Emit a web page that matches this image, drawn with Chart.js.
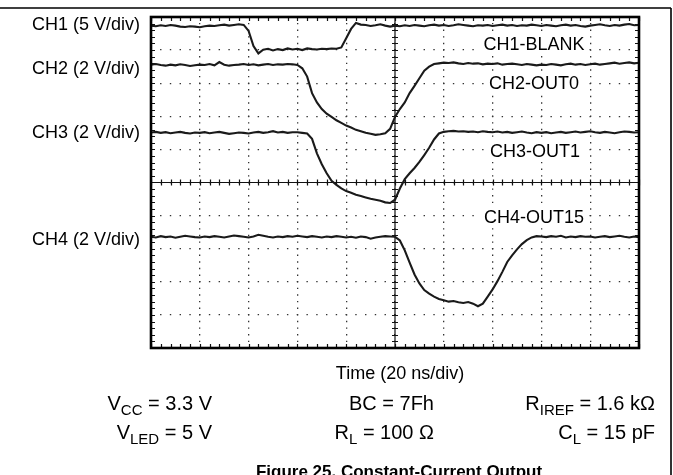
<!DOCTYPE html>
<html><head><meta charset="utf-8">
<script src="https://cdn.jsdelivr.net/npm/chart.js@4.4.0/dist/chart.umd.min.js"></script>
<style>
html,body{margin:0;padding:0;background:#fff;}
#wrap{position:relative;width:673px;height:475px;overflow:hidden;font-family:"Liberation Sans",Arial,Helvetica,sans-serif;color:#000;}
canvas{position:absolute;left:0;top:0;}
.t{position:absolute;white-space:nowrap;line-height:1;}
.r{transform:translateX(-100%);}
.c{transform:translateX(-50%);}
.lab{background:#fff;padding:0 3px;}
.s18{font-size:18px;}
.s20{font-size:20px;}
sub{font-size:0.75em;vertical-align:-0.3em;line-height:0;}
.cap{font-size:17px;font-weight:bold;}
</style></head><body>
<div id="wrap">
<canvas id="c" width="673" height="475"></canvas>
<div class="t r s18" style="left:140px;top:15px">CH1 (5 V/div)</div>
<div class="t r s18" style="left:140px;top:59px">CH2 (2 V/div)</div>
<div class="t r s18" style="left:140px;top:123px">CH3 (2 V/div)</div>
<div class="t r s18" style="left:140px;top:230px">CH4 (2 V/div)</div>
<div class="t c s18 lab" style="left:534px;top:35px">CH1-BLANK</div>
<div class="t c s18 lab" style="left:534px;top:74px">CH2-OUT0</div>
<div class="t c s18 lab" style="left:535px;top:142px">CH3-OUT1</div>
<div class="t c s18 lab" style="left:534px;top:208px">CH4-OUT15</div>
<div class="t c s18" style="left:400px;top:364px">Time (20 ns/div)</div>
<div class="t r s20" style="left:212px;top:393px">V<sub>CC</sub> = 3.3 V</div>
<div class="t r s20" style="left:434px;top:393px">BC = 7Fh</div>
<div class="t r s20" style="left:655px;top:393px">R<sub>IREF</sub> = 1.6 kΩ</div>
<div class="t r s20" style="left:212px;top:422px">V<sub>LED</sub> = 5 V</div>
<div class="t r s20" style="left:434px;top:422px">R<sub>L</sub> = 100 Ω</div>
<div class="t r s20" style="left:655px;top:422px">C<sub>L</sub> = 15 pF</div>
<div class="t c cap" style="left:399px;top:463px">Figure 25. Constant-Current Output</div>
</div>
<script>
// Time axis (ns), 20 ns/div
const timeNs = [-100,-98,-96,-94,-92,-90,-88,-86,-84,-82,-80,-78,-76,-74,-72,-70,-68,-66,-64,-62,-60,-58,-56,-54,-52,-50,-48,-46,-44,-42,-40,-38,-36,-34,-32,-30,-28,-26,-24,-22,-20,-18,-16,-14,-12,-10,-8,-6,-4,-2,0,2,4,6,8,10,12,14,16,18,20,22,24,26,28,30,32,34,36,38,40,42,44,46,48,50,52,54,56,58,60,62,64,66,68,70,72,74,76,78,80,82,84,86,88,90,92,94,96,98,100];
// Trace positions in screen divisions (center = 0)
const ch1Blank = [4.74,4.72,4.75,4.73,4.76,4.74,4.71,4.70,4.72,4.71,
 4.69,4.72,4.74,4.73,4.75,4.77,4.74,4.76,4.78,4.76,
 4.58,4.12,3.90,4.01,4.04,3.99,4.03,4.00,4.05,4.02,
 4.04,4.00,4.05,4.03,4.02,4.04,4.03,4.05,4.04,4.08,
 4.36,4.64,4.82,4.77,4.76,4.73,4.75,4.78,4.74,4.71,
 4.74,4.72,4.75,4.73,4.76,4.74,4.72,4.75,4.77,4.74,
 4.76,4.73,4.75,4.78,4.76,4.74,4.72,4.75,4.74,4.76,
 4.73,4.75,4.77,4.74,4.76,4.73,4.75,4.74,4.77,4.75,
 4.73,4.76,4.74,4.72,4.75,4.77,4.74,4.76,4.73,4.71,
 4.74,4.76,4.78,4.75,4.73,4.76,4.74,4.77,4.79,4.75,
 4.76];
const ch2Out0 = [3.56,3.58,3.55,3.53,3.56,3.54,3.57,3.55,3.52,3.54,
 3.56,3.55,3.58,3.54,3.64,3.56,3.53,3.55,3.56,3.58,
 3.55,3.57,3.54,3.56,3.58,3.55,3.57,3.56,3.58,3.57,
 3.55,3.45,3.20,2.70,2.42,2.22,2.08,1.98,1.88,1.80,
 1.72,1.66,1.59,1.55,1.50,1.47,1.44,1.46,1.49,1.62,
 1.98,2.22,2.42,2.70,2.92,3.15,3.38,3.50,3.58,3.60,
 3.62,3.61,3.63,3.60,3.58,3.61,3.59,3.60,3.57,3.59,
 3.58,3.60,3.56,3.58,3.59,3.57,3.55,3.58,3.56,3.54,
 3.56,3.55,3.58,3.56,3.54,3.57,3.59,3.56,3.58,3.55,
 3.57,3.59,3.56,3.58,3.60,3.62,3.59,3.61,3.63,3.60,
 3.62];
const ch3Out1 = [1.51,1.53,1.50,1.52,1.49,1.51,1.53,1.50,1.48,1.51,
 1.50,1.52,1.49,1.51,1.53,1.50,1.47,1.49,1.51,1.50,
 1.48,1.51,1.53,1.50,1.52,1.55,1.51,1.53,1.50,1.52,
 1.52,1.50,1.48,1.32,0.88,0.55,0.28,0.05,-0.07,-0.18,
 -0.26,-0.31,-0.37,-0.41,-0.45,-0.49,-0.52,-0.55,-0.60,-0.62,
 -0.52,-0.18,0.10,0.28,0.44,0.62,0.83,1.05,1.30,1.48,
 1.53,1.55,1.56,1.54,1.55,1.53,1.54,1.52,1.55,1.53,
 1.52,1.54,1.51,1.53,1.50,1.52,1.54,1.51,1.49,1.52,
 1.50,1.52,1.49,1.51,1.53,1.50,1.52,1.54,1.51,1.53,
 1.55,1.52,1.50,1.53,1.51,1.49,1.52,1.54,1.53,1.51,
 1.52];
const ch4Out15 = [-1.64,-1.66,-1.62,-1.65,-1.63,-1.67,-1.64,-1.61,-1.63,-1.65,
 -1.66,-1.63,-1.65,-1.62,-1.64,-1.66,-1.63,-1.60,-1.62,-1.64,
 -1.66,-1.63,-1.58,-1.61,-1.64,-1.66,-1.63,-1.65,-1.62,-1.64,
 -1.61,-1.63,-1.65,-1.62,-1.64,-1.66,-1.63,-1.65,-1.62,-1.64,
 -1.66,-1.64,-1.67,-1.63,-1.65,-1.70,-1.66,-1.64,-1.62,-1.63,
 -1.64,-1.75,-2.05,-2.42,-2.78,-3.05,-3.25,-3.36,-3.45,-3.52,
 -3.56,-3.60,-3.58,-3.62,-3.64,-3.61,-3.66,-3.74,-3.66,-3.45,
 -3.23,-2.98,-2.70,-2.40,-2.20,-2.02,-1.86,-1.74,-1.66,-1.62,
 -1.63,-1.65,-1.62,-1.64,-1.61,-1.66,-1.63,-1.65,-1.62,-1.64,
 -1.63,-1.66,-1.64,-1.62,-1.65,-1.63,-1.61,-1.64,-1.66,-1.63,
 -1.65];

const traces = [ch1Blank, ch2Out0, ch3Out1, ch4Out15];

const scopeDecor = {
  id: 'scopeDecor',
  beforeDatasetsDraw(chart) {
    const {ctx, chartArea: a, scales: {x, y}} = chart;
    const x0 = x.getPixelForValue(0), y0 = y.getPixelForValue(0);
    ctx.save();
    ctx.strokeStyle = '#111';
    ctx.lineWidth = 1.2;
    ctx.beginPath();
    ctx.moveTo(a.left, y0); ctx.lineTo(a.right, y0);
    ctx.moveTo(x0, a.top); ctx.lineTo(x0, a.bottom);
    for (let t = x.min; t <= x.max + 1e-9; t += 4) {
      const px = Math.round(x.getPixelForValue(t)) + 0.5;
      ctx.moveTo(px, y0 - 3); ctx.lineTo(px, y0 + 3);
      ctx.moveTo(px, a.top); ctx.lineTo(px, a.top + 4);
      ctx.moveTo(px, a.bottom); ctx.lineTo(px, a.bottom - 4);
    }
    for (let v = y.min; v <= y.max + 1e-9; v += 0.2) {
      const py = Math.round(y.getPixelForValue(v)) + 0.5;
      ctx.moveTo(x0 - 3, py); ctx.lineTo(x0 + 3, py);
      ctx.moveTo(a.left, py); ctx.lineTo(a.left + 4, py);
      ctx.moveTo(a.right, py); ctx.lineTo(a.right - 4, py);
    }
    ctx.stroke();
    ctx.restore();
  },
  afterDatasetsDraw(chart) {
    const {ctx, chartArea: a} = chart;
    ctx.save();
    ctx.strokeStyle = '#000';
    ctx.lineWidth = 2.6;
    ctx.strokeRect(a.left, a.top, a.right - a.left, a.bottom - a.top);
    ctx.lineWidth = 1.6;
    ctx.beginPath();
    ctx.moveTo(0, 8); ctx.lineTo(671, 8);
    ctx.moveTo(671, 8); ctx.lineTo(671, chart.height);
    ctx.stroke();
    ctx.restore();
  }
};

new Chart(document.getElementById('c'), {
  type: 'line',
  data: {
    datasets: traces.map((vals, k) => ({
      label: 'CH' + (k + 1),
      data: timeNs.map((t, i) => ({x: t, y: vals[i]})),
      borderColor: '#1a1a1a',
      borderWidth: 2.1,
      pointRadius: 0,
      tension: 0,
      fill: false
    }))
  },
  options: {
    responsive: false,
    animation: false,
    devicePixelRatio: 1,
    layout: {padding: {left: 151, top: 17, right: 34, bottom: 127}},
    plugins: {legend: {display: false}, tooltip: {enabled: false}, title: {display: false}},
    scales: {
      x: {
        type: 'linear', min: -100, max: 100,
        ticks: {display: false, stepSize: 20},
        grid: {drawTicks: false, color: '#333', lineWidth: 1.3},
        border: {display: false, dash: [1.4, 5.22], dashOffset: 0.7}
      },
      y: {
        type: 'linear', min: -5, max: 5,
        ticks: {display: false, stepSize: 1},
        grid: {drawTicks: false, color: '#333', lineWidth: 1.3},
        border: {display: false, dash: [1.4, 8.36], dashOffset: 0.7}
      }
    }
  },
  plugins: [scopeDecor]
});
</script>
</body></html>
